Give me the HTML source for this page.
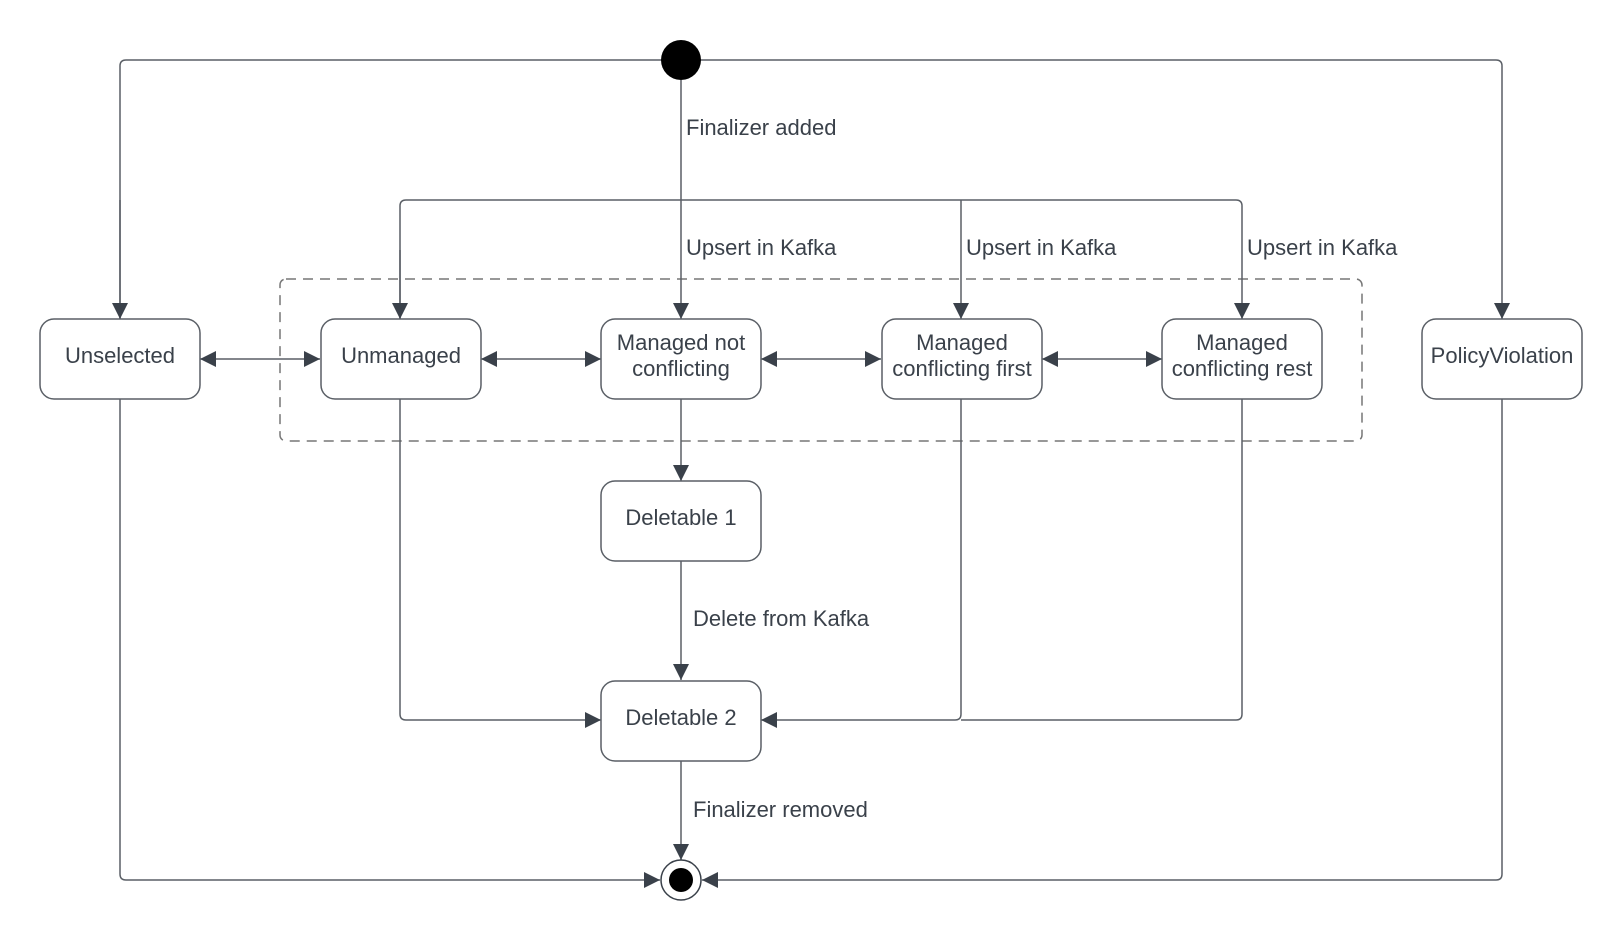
<!DOCTYPE html>
<html><head><style>
html,body{margin:0;padding:0;background:#fff;}
svg{display:block;}
text{font-family:"Liberation Sans",sans-serif;font-size:22px;fill:#3a414a;}
</style></head><body>
<svg width="1620" height="940" viewBox="0 0 1620 940" xmlns="http://www.w3.org/2000/svg">
<defs>
<marker id="a" viewBox="0 0 10 10" refX="10" refY="5" markerWidth="16" markerHeight="16" markerUnits="userSpaceOnUse" orient="auto-start-reverse">
<path d="M0,0 L10,5 L0,10 z" fill="#3a414a"/></marker>
</defs>
<g fill="none" stroke="#5a5f66" stroke-width="1.5">
<rect x="280" y="279" width="1082" height="162" rx="6" stroke-dasharray="10,7" stroke="#777"/>
<path d="M120,319 V66 Q120,60 126,60 H1496 Q1502,60 1502,66 V319" marker-end="url(#a)"/>
<path d="M120,200 V319" marker-end="url(#a)"/>
<path d="M681,80 V319" marker-end="url(#a)"/>
<path d="M400,319 V206 Q400,200 406,200 H1236 Q1242,200 1242,206 V319" marker-end="url(#a)"/>
<path d="M400,250 V319" marker-end="url(#a)"/>
<path d="M961,200 V319" marker-end="url(#a)"/>
<path d="M200,359 H320" marker-start="url(#a)" marker-end="url(#a)"/>
<path d="M481,359 H601" marker-start="url(#a)" marker-end="url(#a)"/>
<path d="M761,359 H881" marker-start="url(#a)" marker-end="url(#a)"/>
<path d="M1042,359 H1162" marker-start="url(#a)" marker-end="url(#a)"/>
<path d="M681,399 V481" marker-end="url(#a)"/>
<path d="M681,561 V680" marker-end="url(#a)"/>
<path d="M681,761 V860" marker-end="url(#a)"/>
<path d="M400,399 V714 Q400,720 406,720 H601" marker-end="url(#a)"/>
<path d="M961,399 V714 Q961,720 955,720 H761" marker-end="url(#a)"/>
<path d="M1242,399 V714 Q1242,720 1236,720 H961"/>
<path d="M120,399 V874 Q120,880 126,880 H660" marker-end="url(#a)"/>
<path d="M1502,399 V874 Q1502,880 1496,880 H702" marker-end="url(#a)"/>
</g>
<circle cx="681" cy="60" r="20" fill="#000"/>
<circle cx="681" cy="880" r="20" fill="#fff" stroke="#3a414a" stroke-width="1.5"/>
<circle cx="681" cy="880" r="12" fill="#000"/>
<g fill="#fff" stroke="#5a5f66" stroke-width="1.5">
<rect x="40" y="319" width="160" height="80" rx="14"/>
<rect x="321" y="319" width="160" height="80" rx="14"/>
<rect x="601" y="319" width="160" height="80" rx="14"/>
<rect x="882" y="319" width="160" height="80" rx="14"/>
<rect x="1162" y="319" width="160" height="80" rx="14"/>
<rect x="1422" y="319" width="160" height="80" rx="14"/>
<rect x="601" y="481" width="160" height="80" rx="14"/>
<rect x="601" y="681" width="160" height="80" rx="14"/>
</g>
<g text-anchor="middle">
<text x="120" y="363">Unselected</text>
<text x="401" y="363">Unmanaged</text>
<text x="681" y="350">Managed not</text>
<text x="681" y="376">conflicting</text>
<text x="962" y="350">Managed</text>
<text x="962" y="376">conflicting first</text>
<text x="1242" y="350">Managed</text>
<text x="1242" y="376">conflicting rest</text>
<text x="1502" y="363">PolicyViolation</text>
<text x="681" y="525">Deletable 1</text>
<text x="681" y="725">Deletable 2</text>
</g>
<text x="686" y="135">Finalizer added</text>
<text x="686" y="255">Upsert in Kafka</text>
<text x="966" y="255">Upsert in Kafka</text>
<text x="1247" y="255">Upsert in Kafka</text>
<text x="693" y="626">Delete from Kafka</text>
<text x="693" y="817">Finalizer removed</text>
</svg>
</body></html>
